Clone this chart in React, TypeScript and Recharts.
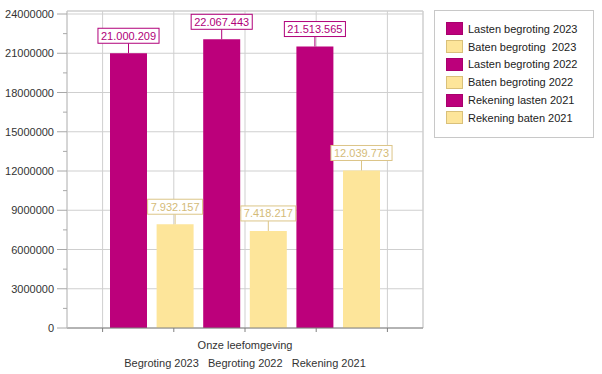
import React from 'react';
import { BarChart, Bar, XAxis, YAxis, CartesianGrid, Legend, ReferenceLine, LabelList } from 'recharts';

const categories = ['Onze leefomgeving'];
const subCategoryLabel = 'Begroting 2023   Begroting 2022   Rekening 2021';
const seriesNames = [
  'Lasten begroting 2023',
  'Baten begroting  2023',
  'Lasten begroting 2022',
  'Baten begroting 2022',
  'Rekening lasten 2021',
  'Rekening baten 2021',
];
const seriesValues = [21000209, 7932157, 22067443, 7418217, 21513565, 12039773];
const seriesKinds = ['lasten', 'baten', 'lasten', 'baten', 'lasten', 'baten'];
const yDomain = [0, 24230000];
const yTicksAll = [
  0, 1500000, 3000000, 4500000, 6000000, 7500000, 9000000, 10500000, 12000000,
  13500000, 15000000, 16500000, 18000000, 19500000, 21000000, 22500000, 24000000,
];
const yGridTicks = [0, 3000000, 6000000, 9000000, 12000000, 15000000, 18000000, 21000000, 24000000];
const xGridDomain = [0, 5];
const xGridTicks = [0.5, 1.5, 2.5, 3.5, 4.5];

const FONT = '"Liberation Sans", Arial, sans-serif';
const STYLE: Record<string, { fill: string; stroke: string; text: string; labelBorder: string }> = {
  lasten: { fill: '#bc007b', stroke: '#a8006d', text: '#b0007a', labelBorder: '#b0007a' },
  baten: { fill: '#fde59a', stroke: '#d9c07a', text: '#d4bb78', labelBorder: '#dcc588' },
};

const data = categories.map((name) => {
  const row: Record<string, string | number> = { name, gx: (xGridDomain[0] + xGridDomain[1]) / 2 };
  seriesValues.forEach((v, i) => {
    row['s' + i] = v;
  });
  return row;
});

const fmtDots = (v: number) => String(v).replace(/\B(?=(\d{3})+(?!\d))/g, '.');

const textWidth = (s: string) => {
  let w = 0;
  for (const ch of s) w += ch === '.' ? 3.06 : 6.12;
  return w;
};

const makeLabel = (kind: string) => (props: any) => {
  const { x, y, width, value } = props;
  const c = STYLE[kind];
  const txt = fmtDots(Number(value));
  const cx = Number(x) + Number(width) / 2;
  const top = Number(y);
  const w = textWidth(txt) + 6;
  return (
    <g>
      <line x1={cx} x2={cx} y1={top - 10} y2={top} stroke={c.labelBorder} strokeWidth={1} />
      <rect x={cx - w / 2} y={top - 25} width={w} height={15} fill="#ffffff" stroke={c.labelBorder} strokeWidth={1} />
      <text x={cx} y={top - 13.5} textAnchor="middle" fontSize={11} fontFamily={FONT} fill={c.text}>
        {txt}
      </text>
    </g>
  );
};

const YTick = (props: any) => {
  const { x, y, payload } = props;
  const major = payload.value % 3000000 === 0;
  return (
    <g>
      <line x1={x + (major ? 3 : 9)} x2={x + 13} y1={y} y2={y} stroke="#a8a8a8" strokeWidth={1} />
      {major && (
        <text x={x} y={y} dy={4} textAnchor="end" fontSize={11} fontFamily={FONT} fill="#333333">
          {payload.value}
        </text>
      )}
    </g>
  );
};

const XLabel = (props: any) => {
  const vb = props.viewBox || {};
  const cx = vb.x + vb.width / 2;
  return (
    <g>
      <text x={cx} y={vb.y + 21} textAnchor="middle" fontSize={11} fontFamily={FONT} fill="#333333">
        {categories[0]}
      </text>
      <text x={cx} y={vb.y + 39} textAnchor="middle" fontSize={11} fontFamily={FONT} fill="#333333" style={{ whiteSpace: 'pre' }}>
        {subCategoryLabel}
      </text>
    </g>
  );
};

const LegendBox = () => (
  <div
    style={{
      border: '1px solid #c8c8c8',
      width: 160,
      height: 128,
      fontFamily: FONT,
      fontSize: 11,
      color: '#222222',
      paddingTop: 9,
      boxSizing: 'border-box',
      background: '#fff',
    } as React.CSSProperties}
  >
    {seriesNames.map((n, i) => {
      const c = STYLE[seriesKinds[i]];
      return (
        <div key={i} style={{ display: 'flex', alignItems: 'center', height: 17.8 }}>
          <span
            style={{
              display: 'inline-block',
              width: 15,
              height: 11,
              marginLeft: 11,
              marginRight: 5,
              background: c.fill,
              border: '1px solid ' + c.stroke,
            }}
          />
          <span style={{ whiteSpace: 'pre' }}>{n}</span>
        </div>
      );
    })}
  </div>
);

export default function App() {
  return (
    <div style={{ position: 'absolute', left: 0, top: 0, width: 602, height: 374, background: '#fff' }}>
      <BarChart
        width={602}
        height={374}
        data={data}
        margin={{ top: 11, right: 179, bottom: 0, left: 0 }}
        barSize={37}
        barGap={9.6}
        barCategoryGap={0}
      >
        <CartesianGrid xAxisId="grid" yAxisId="grid" stroke="#cfcfcf" strokeWidth={1} />
        <XAxis
          xAxisId="grid"
          dataKey="gx"
          type="number"
          domain={xGridDomain}
          allowDataOverflow
          ticks={xGridTicks}
          interval={0}
          tickFormatter={() => ''}
          tickSize={4}
          height={46}
          axisLine={{ stroke: '#808080' }}
          tickLine={{ stroke: '#808080' }}
          label={<XLabel />}
        />
        <XAxis xAxisId="cat" dataKey="name" type="category" hide height={0} />
        <YAxis
          yAxisId="main"
          domain={yDomain}
          allowDataOverflow
          ticks={yTicksAll}
          interval={0}
          width={67}
          tickSize={10}
          tickMargin={3}
          tickLine={false}
          axisLine={{ stroke: '#c4c4c4' }}
          tick={<YTick />}
        />
        <YAxis yAxisId="grid" domain={yDomain} allowDataOverflow ticks={yGridTicks} interval={0} hide width={0} />
        <ReferenceLine xAxisId="grid" yAxisId="grid" x={xGridDomain[1]} stroke="#cfcfcf" />
        <ReferenceLine xAxisId="grid" yAxisId="grid" y={yDomain[1]} stroke="#cfcfcf" />
        <Legend
          layout="vertical"
          align="center"
          verticalAlign="middle"
          wrapperStyle={{ left: 434, top: 10, width: 160, height: 128 }}
          content={<LegendBox />}
        />
        {seriesNames.map((n, i) => (
          <Bar
            key={i}
            xAxisId="cat"
            yAxisId="main"
            dataKey={'s' + i}
            name={n}
            fill={STYLE[seriesKinds[i]].fill}
            isAnimationActive={false}
          >
            <LabelList dataKey={'s' + i} content={makeLabel(seriesKinds[i])} />
          </Bar>
        ))}
      </BarChart>
    </div>
  );
}
